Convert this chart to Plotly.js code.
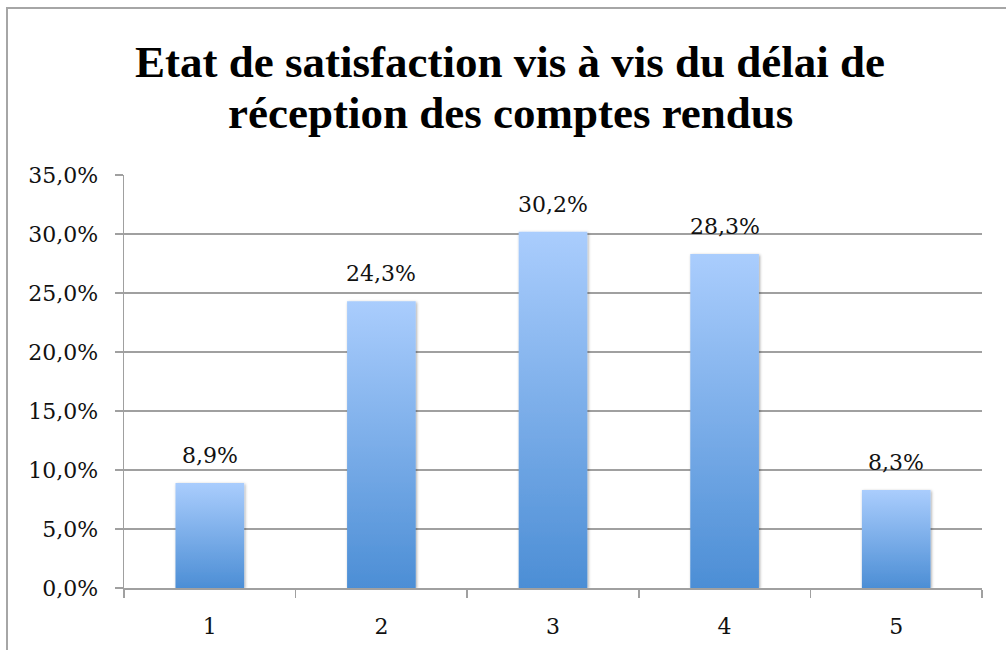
<!DOCTYPE html>
<html>
<head>
<meta charset="utf-8">
<script src="https://cdn.plot.ly/plotly-3.0.1.min.js"></script>
<style>
  html, body { margin: 0; padding: 0; background: #fff; }
  #wrap { position: relative; width: 1006px; height: 650px; overflow: hidden; }
  #chart { position: absolute; left: 0; top: 0; width: 1006px; height: 650px; }
  #frame { position: absolute; left: 6px; top: 7px; width: 1100px; height: 700px;
           border: 2px solid #a6a6a6; pointer-events: none; box-sizing: border-box; }
</style>
</head>
<body>
<div id="wrap">
  <div id="chart"></div>
  <div id="frame"></div>
</div>
<script>
const categories = ["1", "2", "3", "4", "5"];
const shares = [0.089, 0.243, 0.302, 0.283, 0.083];
const yTicks = [0, 0.05, 0.10, 0.15, 0.20, 0.25, 0.30, 0.35];
const titleLines = ["Etat de satisfaction vis à vis du délai de", "réception des comptes rendus"];

const serif = "DejaVu Serif, serif";
const titleFont = "Liberation Serif, Times New Roman, serif";
const fs = 22;

const trace = {
  type: "bar",
  x: categories,
  y: shares,
  marker: { color: "#79aee9", line: { width: 0 } },
  hoverinfo: "skip"
};

const pctFmt = v => (v * 100).toFixed(1).replace(".", ",") + "%";
const labelAnnotations = categories.map((c, i) => ({
  x: i, y: shares[i], xref: "x", yref: "y",
  text: pctFmt(shares[i]),
  showarrow: false, xanchor: "center", yanchor: "bottom", yshift: 13,
  font: { family: serif, size: fs, color: "#111" }
}));

const layout = {
  width: 1006,
  height: 650,
  margin: { l: 124, r: 24, t: 175, b: 62 },
  paper_bgcolor: "#fff",
  plot_bgcolor: "#fff",
  separators: ",.",
  bargap: 0.6,
  showlegend: false,
  font: { family: serif, size: fs, color: "#111" },
  xaxis: {
    type: "category",
    showgrid: false,
    showline: true,
    linecolor: "#a0a0a0",
    linewidth: 1.5,
    ticks: "outside",
    tickson: "boundaries",
    ticklen: 8,
    tickcolor: "#a0a0a0",
    tickwidth: 1.5,
    ticklabelstandoff: 18,
    tickfont: { family: serif, size: fs, color: "#111" },
    zeroline: false
  },
  yaxis: {
    range: [0, 0.35],
    tickvals: yTicks,
    tickformat: ".1%",
    showgrid: true,
    gridcolor: "#a0a0a0",
    gridwidth: 1.5,
    showline: true,
    linecolor: "#a0a0a0",
    linewidth: 1.5,
    ticks: "outside",
    ticklen: 8,
    tickcolor: "#a0a0a0",
    tickwidth: 1.5,
    ticklabelstandoff: 12,
    tickfont: { family: serif, size: fs, color: "#111" },
    zeroline: false
  },
  annotations: titleLines.map((t, i) => ({
    text: "<b>" + t + "</b>",
    xref: "paper", yref: "paper",
    x: 0.45, y: i === 0 ? 1.274 : 1.150,
    xanchor: "center", yanchor: "middle",
    showarrow: false,
    font: { family: titleFont, size: 45, color: "#000" }
  })).concat(labelAnnotations)
};

Plotly.newPlot("chart", [trace], layout, { displayModeBar: false, staticPlot: true }).then(gd => {
  const svg = gd.querySelector("svg.main-svg");
  const ns = "http://www.w3.org/2000/svg";
  let defs = svg.querySelector("defs");
  if (!defs) { defs = document.createElementNS(ns, "defs"); svg.insertBefore(defs, svg.firstChild); }
  const grad = document.createElementNS(ns, "linearGradient");
  grad.setAttribute("id", "barGrad");
  grad.setAttribute("x1", "0"); grad.setAttribute("y1", "0");
  grad.setAttribute("x2", "0"); grad.setAttribute("y2", "1");
  [["0", "#aacdfd"], ["1", "#4c8ed5"]].forEach(([o, c]) => {
    const s = document.createElementNS(ns, "stop");
    s.setAttribute("offset", o); s.setAttribute("stop-color", c);
    grad.appendChild(s);
  });
  defs.appendChild(grad);
  const filt = document.createElementNS(ns, "filter");
  filt.setAttribute("id", "barShadow");
  filt.setAttribute("x", "-20%"); filt.setAttribute("y", "-20%");
  filt.setAttribute("width", "140%"); filt.setAttribute("height", "140%");
  filt.innerHTML = '<feDropShadow dx="1" dy="1" stdDeviation="1.5" flood-color="#000" flood-opacity="0.35"/>';
  defs.appendChild(filt);
  gd.querySelectorAll(".bars .point path").forEach(p => {
    p.style.fill = "url(#barGrad)";
    p.setAttribute("filter", "url(#barShadow)");
  });
});
</script>
</body>
</html>
